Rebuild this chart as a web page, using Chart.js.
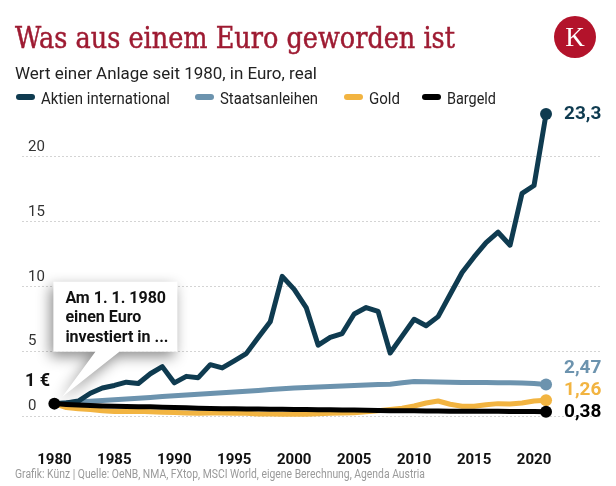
<!DOCTYPE html>
<html lang="de">
<head>
<meta charset="utf-8">
<script src="https://cdn.jsdelivr.net/npm/chart.js@4.4.1/dist/chart.umd.min.js"></script>
<style>
  body { margin: 0; background: #fff; font-family: Roboto, sans-serif; }
  #wrap { position: relative; width: 616px; height: 486px; overflow: hidden; }
  #box { position: absolute; left: 0; top: 0; width: 616px; height: 486px; }
  .fit { position: absolute; white-space: nowrap; transform-origin: 0 50%; line-height: 1; }
  #title { left: 15px; top: 21px; font: 29px "DejaVu Serif", serif; color: #9e1b32; -webkit-text-stroke: 0.5px #9e1b32; }
  #sub { left: 15px; top: 64px; font: 16px Roboto; color: #222; }
  #foot { left: 15px; top: 467px; font: 12px Roboto; color: #9a9a9a; }
  #logo { position: absolute; left: 554px; top: 16px; width: 42px; height: 42px; border-radius: 50%;
          background: #b3132b; color: #fff; font: 27px "Liberation Serif", serif; text-align: center; line-height: 43px; }
  .mark { position: absolute; height: 6px; width: 19px; border-radius: 3px; top: 94px; }
  .leg { top: 89px; font: 16px Roboto; color: #222; }
</style>
</head>
<body>
<div id="wrap">
  <div id="box"><canvas id="chart"></canvas></div>
  <div id="title" class="fit">Was aus einem Euro geworden ist</div>
  <div id="logo">K</div>
  <div id="sub" class="fit">Wert einer Anlage seit 1980, in Euro, real</div>
  <div id="legend"></div>
  <div id="foot" class="fit">Grafik: Künz | Quelle: OeNB, NMA, FXtop, MSCI World, eigene Berechnung, Agenda Austria</div>
</div>
<script>
const years = [1980, 1981, 1982, 1983, 1984, 1985, 1986, 1987, 1988, 1989,
    1990, 1991, 1992, 1993, 1994, 1995, 1996, 1997, 1998, 1999,
    2000, 2001, 2002, 2003, 2004, 2005, 2006, 2007, 2008, 2009,
    2010, 2011, 2012, 2013, 2014, 2015, 2016, 2017, 2018, 2019,
    2020, 2021];

const aktien = [1.0, 1.05, 1.2, 1.8, 2.2, 2.4, 2.65, 2.55, 3.3, 3.85,
    2.6, 3.1, 3.0, 4.0, 3.75, 4.3, 4.85, 6.1, 7.3, 10.8,
    9.8, 8.4, 5.5, 6.1, 6.4, 7.9, 8.4, 8.1, 4.9, 6.2,
    7.5, 7.0, 7.7, 9.4, 11.1, 12.3, 13.4, 14.2, 13.2, 17.2,
    17.8, 23.3];

const anleihen = [1.0, 1.06, 1.12, 1.18, 1.24, 1.3, 1.36, 1.42, 1.48, 1.54,
    1.6, 1.66, 1.72, 1.78, 1.84, 1.9, 1.96, 2.02, 2.08, 2.14,
    2.2, 2.24, 2.28, 2.32, 2.36, 2.4, 2.43, 2.47, 2.5, 2.6,
    2.7, 2.68, 2.66, 2.64, 2.63, 2.62, 2.62, 2.61, 2.6, 2.58,
    2.55, 2.47];

const gold = [1.0, 0.7, 0.6, 0.55, 0.45, 0.4, 0.4, 0.42, 0.38, 0.33,
    0.32, 0.28, 0.26, 0.27, 0.27, 0.26, 0.25, 0.2, 0.2, 0.19,
    0.19, 0.19, 0.22, 0.25, 0.27, 0.3, 0.38, 0.45, 0.55, 0.65,
    0.82, 1.05, 1.2, 0.95, 0.8, 0.8, 0.92, 1.0, 0.98, 1.05,
    1.2, 1.26];

const bargeld = [1.0, 0.94, 0.89, 0.86, 0.82, 0.79, 0.78, 0.76, 0.75, 0.73,
    0.7, 0.68, 0.65, 0.63, 0.61, 0.6, 0.59, 0.58, 0.57, 0.57,
    0.55, 0.54, 0.53, 0.52, 0.51, 0.5, 0.49, 0.48, 0.46, 0.46,
    0.45, 0.44, 0.43, 0.42, 0.42, 0.42, 0.41, 0.41, 0.4, 0.4,
    0.39, 0.38];

const seriesNames = ["Aktien international", "Staatsanleihen", "Gold", "Bargeld"];
const seriesColors = ["#0f3b50", "#6c93ae", "#f2b441", "#000000"];
const seriesValues = [aktien, anleihen, gold, bargeld];
const yTicks = [0, 5, 10, 15, 20];
const xTicks = [1980, 1985, 1990, 1995, 2000, 2005, 2010, 2015, 2020];

// legend, placed like the original
const legendX = [16, 195, 344, 422];
const legendW = [129, 98, 31, 49];
const legendDiv = document.getElementById("legend");
seriesNames.forEach((name, i) => {
    const m = document.createElement("div");
    m.className = "mark";
    m.style.left = legendX[i] + "px";
    m.style.background = seriesColors[i];
    legendDiv.appendChild(m);
    const t = document.createElement("div");
    t.className = "fit leg";
    t.id = "leg" + i;
    t.style.left = legendX[i] + 25 + "px";
    t.textContent = name;
    legendDiv.appendChild(t);
});

function fit(id, w) {
    const el = document.getElementById(id);
    const r = el.getBoundingClientRect().width;
    el.style.transform = `scaleX(${w / r})`;
}
fit("title", 440);
fit("sub", 302);
fit("foot", 410);
legendW.forEach((w, i) => fit("leg" + i, w));

const fmt = (v) => String(v).replace(".", ",");
const last = years.length - 1;

// end labels shifted up/down so they don't collide
const endShift = [0, -16, -10, 1];

const extras = {
    id: "extras",
    afterDatasetsDraw(chart) {
        const { ctx, scales: { x, y } } = chart;
        ctx.save();

        // end values
        ctx.font = "bold 19px Roboto";
        ctx.textBaseline = "middle";
        ctx.textAlign = "left";
        seriesValues.forEach((vals, i) => {
            ctx.fillStyle = seriesColors[i];
            ctx.fillText(fmt(vals[last]), x.getPixelForValue(years[last]) + 18,
                y.getPixelForValue(vals[last]) + endShift[i]);
        });

        // start dot + "1 €"
        const px = x.getPixelForValue(years[0]);
        const py = y.getPixelForValue(1);
        ctx.fillStyle = "#000";
        ctx.beginPath();
        ctx.arc(px, py, 6, 0, Math.PI * 2);
        ctx.fill();
        ctx.font = "bold 18px Roboto";
        ctx.fillStyle = "#111";
        ctx.fillText("1 €", 25, py - 22);

        // callout box
        const left = px - 1, top = py - 122, w = 124, h = 70;
        ctx.save();
        ctx.shadowColor = "rgba(0,0,0,0.45)";
        ctx.shadowBlur = 14;
        ctx.shadowOffsetX = -3;
        ctx.shadowOffsetY = 5;
        ctx.fillStyle = "#fff";
        ctx.beginPath();
        ctx.moveTo(left, top);
        ctx.lineTo(left + w, top);
        ctx.lineTo(left + w, top + h);
        ctx.lineTo(left + 66, top + h);
        ctx.lineTo(px + 8, py - 7);
        ctx.lineTo(left + 42, top + h);
        ctx.lineTo(left, top + h);
        ctx.closePath();
        ctx.fill();
        ctx.restore();

        ctx.fillStyle = "#111";
        ctx.font = "bold 16px Roboto";
        ctx.textBaseline = "alphabetic";
        ["Am 1. 1. 1980", "einen Euro", "investiert in ..."].forEach((line, i) => {
            ctx.fillText(line, left + 12, top + 21 + i * 19.5);
        });
        ctx.restore();
    },
};

new Chart(document.getElementById("chart"), {
    type: "line",
    data: {
        datasets: seriesValues.map((vals, i) => ({
            label: seriesNames[i],
            data: years.map((yr, j) => ({ x: yr, y: vals[j] })),
            borderColor: seriesColors[i],
            backgroundColor: seriesColors[i],
            borderWidth: 5,
            borderJoinStyle: "round",
            borderCapStyle: "round",
            tension: 0,
            pointRadius: (c) => (c.dataIndex === last ? 6 : 0),
            pointBorderWidth: 0,
            pointHoverRadius: 0,
            order: [1, 3, 2, 0][i],
        })),
    },
    options: {
        responsive: true,
        maintainAspectRatio: false,
        animation: false,
        layout: { padding: { left: 10, right: 16, top: 92, bottom: 0 } },
        plugins: {
            legend: { display: false },
            tooltip: { enabled: false },
        },
        scales: {
            x: {
                type: "linear",
                min: 1977.3,
                max: 2025.5,
                grid: { display: false },
                border: { display: false },
                afterBuildTicks: (s) => { s.ticks = xTicks.map((v) => ({ value: v })); },
                afterFit: (s) => { s.height = 59; },
                ticks: {
                    padding: 16,
                    color: "#111",
                    font: { family: "Roboto", size: 15, weight: "bold" },
                    callback: (v) => String(v),
                },
            },
            y: {
                min: -0.8,
                max: 25,
                afterBuildTicks: (s) => { s.ticks = yTicks.map((v) => ({ value: v })); },
                grid: { color: "#d4d4d4", lineWidth: 1, drawTicks: false },
                border: { display: false, dash: [2, 2] },
                ticks: {
                    mirror: true,
                    padding: 6,
                    labelOffset: -10,
                    color: "#333",
                    font: { family: "Roboto", size: 15 },
                },
            },
        },
    },
    plugins: [extras],
});
</script>
</body>
</html>
